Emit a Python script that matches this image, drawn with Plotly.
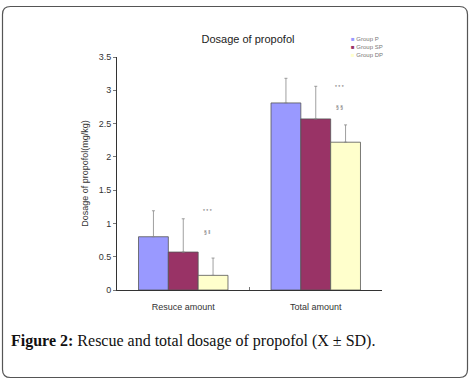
import plotly.graph_objects as go

categories = ["Resuce amount", "Total amount"]
groups = ["Group P", "Group SP", "Group DP"]
colors = ["#9999FF", "#993366", "#FFFFCC"]
means = {
    "Group P": [0.80, 2.81],
    "Group SP": [0.57, 2.57],
    "Group DP": [0.22, 2.22],
}
sds = {
    "Group P": [0.39, 0.37],
    "Group SP": [0.50, 0.49],
    "Group DP": [0.26, 0.26],
}
y_ticks = [0, 0.5, 1, 1.5, 2, 2.5, 3, 3.5]

W, H = 471, 383
L, R, T, B = 117, 89, 57, 93

fig = go.Figure()
for g, c in zip(groups, colors):
    fig.add_trace(go.Bar(
        x=categories, y=means[g], name=g,
        marker=dict(color=c, line=dict(color="#555555", width=0.8)),
        error_y=dict(type="data", array=sds[g], arrayminus=[0] * len(categories),
                     symmetric=False, color="#888888", thickness=0.8, width=1.5),
        showlegend=False,
    ))

annotations = []
# legend as small annotations
for i, (g, c) in enumerate(zip(groups, colors)):
    annotations.append(dict(
        xref="paper", yref="paper",
        x=(349 - L) / (W - L - R), y=(H - B - (39 + 8 * i)) / (H - T - B),
        xanchor="left", yanchor="middle", showarrow=False,
        text=f"<span style='color:{c}'>■</span> {g}",
        font=dict(family="Liberation Sans, Arial", size=6, color="#777777"),
    ))
# significance marks
marks = [
    (categories[0], 1.19, "* * *"), (categories[0], 0.87, "§ ‖"),
    (categories[1], 3.05, "* * *"), (categories[1], 2.75, "§ §"),
]
for cat, yv, t in marks:
    annotations.append(dict(
        x=cat, y=yv, xref="x", yref="y", xshift=24, showarrow=False,
        text=t, font=dict(family="Liberation Sans, Arial", size=5, color="#666666"),
    ))
# caption
annotations.append(dict(
    xref="paper", yref="paper", x=-(L - 9) / (W - L - R), y=-(341 - (H - B)) / (H - T - B),
    xanchor="left", yanchor="middle", showarrow=False,
    text="<b>Figure 2:</b> Rescue and total dosage of propofol (X ± SD).",
    font=dict(family="Liberation Serif, Times New Roman", size=16, color="#111111"),
))

fig.update_layout(
    width=W, height=H, autosize=False,
    margin=dict(l=L, r=R, t=T, b=B),
    plot_bgcolor="white", paper_bgcolor="white",
    barmode="group", bargap=0.325, bargroupgap=0,
    title=dict(text="Dosage of propofol", x=(248) / W, xanchor="center",
               y=1 - 39 / H, yanchor="middle",
               font=dict(family="Liberation Sans, Arial", size=11, color="#222222")),
    xaxis=dict(showline=True, linecolor="#333333", linewidth=1, ticks="inside",
               tickson="boundaries", ticklen=3, tickcolor="#777777",
               ticklabelstandoff=8,
               tickfont=dict(family="Liberation Sans, Arial", size=9, color="#333333"),
               showgrid=False),
    yaxis=dict(range=[0, 3.5], tickvals=y_ticks, showline=True, linecolor="#333333",
               linewidth=1, ticks="outside", ticklen=3, tickcolor="#777777",
               tickfont=dict(family="Liberation Sans, Arial", size=9, color="#333333"),
               showgrid=False, zeroline=False,
               title=dict(text="Dosage of propofol(mg/kg)", standoff=8,
                          font=dict(family="Liberation Sans, Arial", size=9, color="#333333"))),
    annotations=annotations,
)

# rounded outer frame in pixel-based paper coordinates
pw, ph = W - L - R, H - T - B
def px(xp):
    return (xp - L) / pw
def py(yp):
    return (H - B - yp) / ph
x0, x1, y0, y1, r = 2.5, 467.5, 6.5, 377.5, 8
path = (f"M {px(x0 + r)},{py(y0)} L {px(x1 - r)},{py(y0)} "
        f"Q {px(x1)},{py(y0)} {px(x1)},{py(y0 + r)} L {px(x1)},{py(y1 - r)} "
        f"Q {px(x1)},{py(y1)} {px(x1 - r)},{py(y1)} L {px(x0 + r)},{py(y1)} "
        f"Q {px(x0)},{py(y1)} {px(x0)},{py(y1 - r)} L {px(x0)},{py(y0 + r)} "
        f"Q {px(x0)},{py(y0)} {px(x0 + r)},{py(y0)} Z")
fig.add_shape(type="path", xref="paper", yref="paper", path=path,
              line=dict(color="#555555", width=1.2), layer="below")

fig.write_html("out.html", config={"displayModeBar": False},
               post_script="document.body.style.margin='0';document.body.style.overflow='hidden';")
